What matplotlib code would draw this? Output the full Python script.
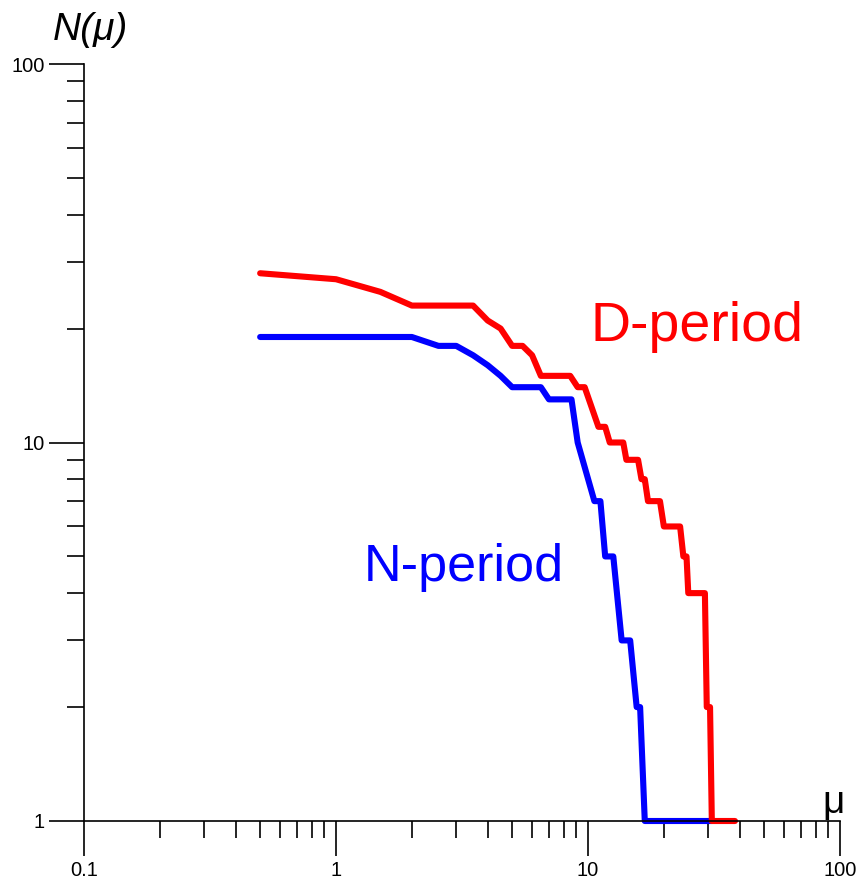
import matplotlib
matplotlib.use('Agg')
import matplotlib.pyplot as plt
import matplotlib.ticker as mticker

plt.rcParams['font.family'] = ['Liberation Sans', 'DejaVu Sans']
plt.rcParams['xtick.labelsize'] = 14.5
plt.rcParams['ytick.labelsize'] = 14.5

# D-period cumulative curve N(mu)
d_mu = [0.5, 1.0, 1.5, 2.0, 3.5, 4.0, 4.5, 5.0, 5.5, 6.0, 6.5, 8.5, 9.1, 9.7, 11.0, 11.7,
        12.2, 13.8, 14.2, 15.8, 16.3, 16.8, 17.3, 19.3, 20.0, 23.2, 23.9, 24.6, 25.0, 29.1,
        29.6, 30.5, 31.0, 38.3]
d_n = [28, 27, 25, 23, 23, 21, 20, 18, 18, 17, 15, 15, 14, 14, 11, 11,
       10, 10, 9, 9, 8, 8, 7, 7, 6, 6, 5, 5, 4, 4,
       2, 2, 1, 1]

# N-period cumulative curve N(mu)
n_mu = [0.5, 2.0, 2.55, 3.0, 3.5, 4.0, 4.5, 5.0, 6.5, 7.0, 8.6, 9.1, 10.6, 11.2, 11.7,
        12.6, 13.6, 14.7, 15.6, 16.1, 16.8, 31.0]
n_n = [19, 19, 18, 18, 17, 16, 15, 14, 14, 13, 13, 10, 7, 7, 5,
       5, 3, 3, 2, 2, 1, 1]

fig = plt.figure(figsize=(8.63, 8.81), dpi=100)
ax = fig.add_axes([84 / 863, 1 - 821 / 881, 756 / 863, 757 / 881])

ax.plot(n_mu, n_n, color='#0000ff', lw=4.4, solid_capstyle='round', clip_on=False)
ax.plot(d_mu, d_n, color='#ff0000', lw=4.4, solid_capstyle='round', clip_on=False)

ax.set_xscale('log')
ax.set_yscale('log')
ax.set_xlim(0.1, 100)
ax.set_ylim(1, 100)

for s in ['top', 'right']:
    ax.spines[s].set_visible(False)
for s in ['left', 'bottom']:
    ax.spines[s].set_linewidth(1.2)

fmt = mticker.FuncFormatter(lambda v, p: ('%g' % v))
ax.xaxis.set_major_formatter(fmt)
ax.yaxis.set_major_formatter(fmt)
ax.xaxis.set_minor_formatter(mticker.NullFormatter())
ax.yaxis.set_minor_formatter(mticker.NullFormatter())
ax.tick_params(which='major', length=25, width=1.2, direction='out')
ax.tick_params(which='minor', length=12, width=1.2, direction='out')
ax.tick_params(axis='x', which='major', pad=4)
ax.tick_params(axis='y', which='major', pad=3)

fig.text(90 / 863, 1 - 30 / 881, 'N(μ)', fontsize=28, fontstyle='italic',
         ha='center', va='center')
fig.text(834 / 863, 1 - 803 / 881, 'μ', fontsize=28, ha='center', va='center')

ax.text((697 - 84) / 756, 1 - (327 - 64) / 757, 'D-period', color='#ff0000', fontsize=40,
        ha='center', va='center', transform=ax.transAxes)
ax.text((464 - 84) / 756, 1 - (567 - 64) / 757, 'N-period', color='#0000ff', fontsize=37.5,
        ha='center', va='center', transform=ax.transAxes)

fig.savefig('out.png', dpi=100)
